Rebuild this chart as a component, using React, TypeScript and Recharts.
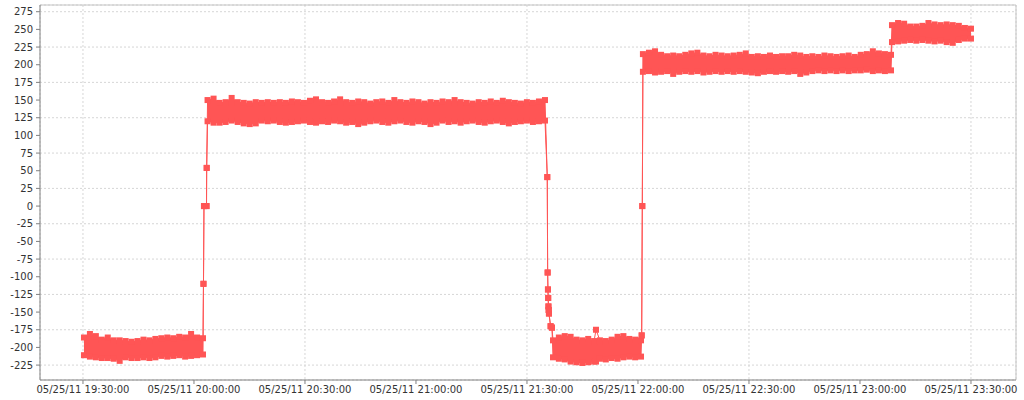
import {
  Area,
  CartesianGrid,
  ComposedChart,
  Line,
  ReferenceLine,
  XAxis,
  YAxis
} from "recharts";

// samples were logged on one day, times are HH:MM:SS
const DAY_LABEL = "05/25/11";

const TIME_TICKS = [
  "19:30:00",
  "20:00:00",
  "20:30:00",
  "21:00:00",
  "21:30:00",
  "22:00:00",
  "22:30:00",
  "23:00:00",
  "23:30:00"
];
const VALUE_TICKS = [-225, -200, -175, -150, -125, -100, -75, -50, -25, 0, 25, 50, 75, 100, 125, 150, 175, 200, 225, 250, 275];

const TIME_MIN = "19:18:23";
const TIME_MAX = "23:42:10";
const VALUE_MIN = -246.1;
const VALUE_MAX = 284.5;

// each noisy plateau: upper and lower envelope of the readings
const plateau1Hi = [-186, -181, -184, -189, -186, -190, -190, -191, -192, -191, -189, -190, -188, -187, -186, -187, -185, -186, -181, -186, -187];
const plateau1Lo = [-211, -213, -214, -215, -215, -216, -219, -214, -215, -215, -214, -215, -214, -212, -213, -212, -211, -213, -212, -211, -210];

const plateau2Hi = [
  150, 152, 146, 147, 153, 147, 146, 145, 147, 146, 147, 146, 147, 146, 148, 147, 146, 149, 151, 147,
  146, 148, 151, 147, 146, 148, 147, 145, 147, 148, 146, 150, 147, 146, 148, 147, 145, 147, 146, 148,
  147, 150, 147, 146, 145, 147, 146, 148, 146, 149, 147, 146, 145, 147, 146, 148, 150
];
const plateau2Lo = [
  120, 118, 118, 119, 121, 119, 117, 116, 117, 121, 120, 121, 119, 118, 119, 120, 121, 119, 118, 120,
  119, 121, 120, 118, 119, 116, 118, 120, 121, 119, 118, 120, 121, 119, 118, 120, 119, 116, 118, 121,
  119, 120, 118, 120, 121, 119, 118, 120, 121, 119, 117, 119, 120, 121, 119, 120, 121
];

const plateau3Hi = [-190, -186, -184, -185, -189, -190, -188, -191, -190, -191, -189, -185, -184, -188, -189, -190];
const plateau3Lo = [-214, -216, -217, -220, -221, -222, -221, -220, -216, -217, -215, -216, -214, -213, -214, -213];

const plateau4Hi = [
  215, 217, 219, 214, 212, 213, 212, 214, 216, 217, 213, 212, 214, 213, 212, 213, 214, 216, 211, 212, 211,
  213, 211, 212, 212, 214, 213, 211, 212, 211, 213, 212, 211, 212, 213, 211, 214, 215, 219, 216, 215, 214
];
const plateau4Lo = [
  190, 191, 189, 190, 191, 187, 190, 191, 190, 191, 189, 190, 191, 190, 191, 190, 191, 190, 189, 188, 190,
  191, 190, 191, 190, 191, 187, 189, 191, 192, 191, 192, 191, 192, 191, 192, 192, 193, 191, 192, 191, 192
];

const plateau5Hi = [256, 259, 258, 254, 254, 255, 259, 257, 256, 257, 256, 255, 252, 251];
const plateau5Lo = [232, 233, 234, 235, 234, 235, 234, 233, 234, 232, 231, 235, 237, 237];

const plateaus = [
  { from: "19:30:16", to: "20:02:26", hi: plateau1Hi, lo: plateau1Lo },
  { from: "20:03:40", to: "21:34:52", hi: plateau2Hi, lo: plateau2Lo },
  { from: "21:37:02", to: "22:00:49", hi: plateau3Hi, lo: plateau3Lo },
  { from: "22:01:20", to: "23:08:23", hi: plateau4Hi, lo: plateau4Lo },
  { from: "23:08:39", to: "23:30:00", hi: plateau5Hi, lo: plateau5Lo }
];

// single readings during the jumps
const jumpTimes = [
  "20:02:34", "20:02:42", "20:03:23", "20:03:26",
  "21:35:29", "21:35:35", "21:35:40", "21:35:44", "21:35:48", "21:35:52", "21:35:56", "21:36:23", "21:36:45",
  "22:01:00", "22:01:10"
];
const jumpValues = [-110, 0, 0, 54, 41, -94, -118, -130, -142, -147, -152, -170, -172, -183, 0];

// lone reading above the third plateau
const spikeTime = "21:48:39";
const spikeValue = -175;
const spikeBand = [-220, -191];

const RED = "#ff5555";

const toSec = (s: string) => {
  const [h, m, sec] = s.split(":").map(Number);
  return h * 3600 + m * 60 + sec;
};

const pad = (n: number) => String(n).padStart(2, "0");
const formatTime = (t: number) => {
  const h = Math.floor(t / 3600);
  const m = Math.floor((t % 3600) / 60);
  const s = Math.round(t % 60);
  return `${DAY_LABEL} ${pad(h)}:${pad(m)}:${pad(s)}`;
};

type Row = { t: number; lo: number; hi: number; band: [number, number] };

const rows: Row[] = [];
plateaus.forEach((p) => {
  const a = toSec(p.from);
  const b = toSec(p.to);
  const n = p.hi.length;
  p.hi.forEach((hi, i) => {
    const lo = p.lo[i];
    rows.push({ t: a + ((b - a) * i) / (n - 1), lo, hi, band: [lo, hi] });
  });
});
jumpTimes.forEach((time, i) => {
  const v = jumpValues[i];
  rows.push({ t: toSec(time), lo: v, hi: v, band: [v, v] });
});
rows.push({
  t: toSec(spikeTime),
  lo: spikeBand[0],
  hi: spikeValue,
  band: [spikeBand[0], spikeBand[1]]
});
rows.sort((a, b) => a.t - b.t);

const tickStyle = { fontSize: 10, fill: "#333333", fontFamily: "DejaVu Sans" };

const squareDot = (props: any) => {
  const { cx, cy, index } = props;
  if (cx == null || cy == null) return <g key={`d${index}`} />;
  return <rect key={`d${index}`} x={cx - 3} y={cy - 3} width={6} height={6} fill={RED} />;
};

export default function App() {
  return (
    <div style={{ position: "absolute", left: 0, top: 0, background: "#fff" }}>
      <ComposedChart
        width={1024}
        height={400}
        data={rows}
        margin={{ top: 5, right: 8, bottom: 0, left: 0 }}
      >
        <CartesianGrid stroke="#d6d6d6" strokeDasharray="2 2" />
        <XAxis
          dataKey="t"
          type="number"
          domain={[toSec(TIME_MIN), toSec(TIME_MAX)]}
          ticks={TIME_TICKS.map(toSec)}
          tickFormatter={formatTime}
          allowDataOverflow
          height={20}
          tickSize={4}
          tickMargin={2}
          tick={tickStyle}
          stroke="#808080"
        />
        <YAxis
          type="number"
          domain={[VALUE_MIN, VALUE_MAX]}
          ticks={VALUE_TICKS}
          allowDataOverflow
          width={40}
          tickSize={4}
          tickMargin={3}
          tick={tickStyle}
          stroke="#808080"
        />
        <ReferenceLine y={VALUE_MAX} stroke="#c4c4c4" />
        <ReferenceLine x={toSec(TIME_MAX)} stroke="#c4c4c4" />
        <Area
          dataKey="band"
          type="linear"
          fill={RED}
          fillOpacity={1}
          stroke="none"
          dot={false}
          activeDot={false}
          isAnimationActive={false}
        />
        <Line
          dataKey="lo"
          type="linear"
          stroke={RED}
          strokeWidth={1}
          dot={squareDot}
          activeDot={false}
          isAnimationActive={false}
        />
        <Line
          dataKey="hi"
          type="linear"
          stroke={RED}
          strokeWidth={1}
          dot={squareDot}
          activeDot={false}
          isAnimationActive={false}
        />
      </ComposedChart>
    </div>
  );
}
